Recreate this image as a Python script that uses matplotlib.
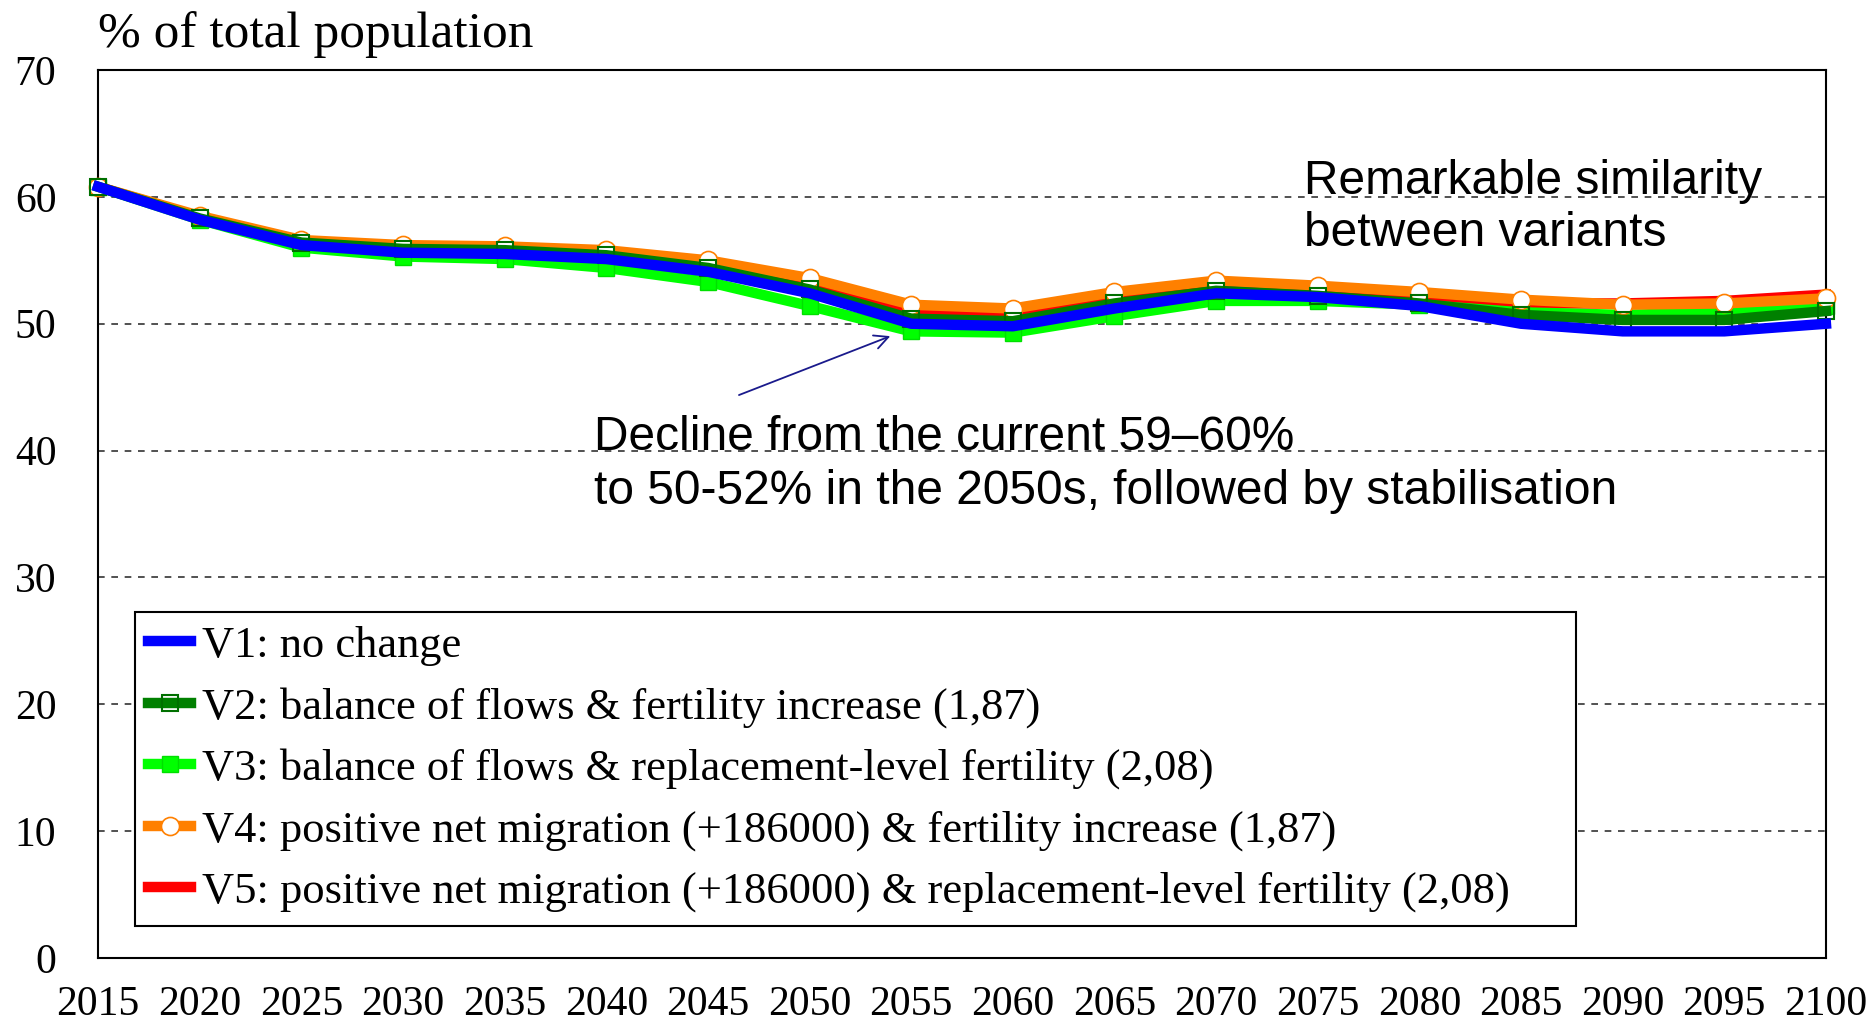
import numpy as np
import matplotlib
matplotlib.use('Agg')
import matplotlib.pyplot as plt

# data (share of population, %)
years = [2015, 2020, 2025, 2030, 2035, 2040, 2045, 2050, 2055,
         2060, 2065, 2070, 2075, 2080, 2085, 2090, 2095, 2100]
v1 = [60.8, 58.2, 56.2, 55.6, 55.5, 55.1, 54.1, 52.4, 50.0,
      49.8, 51.2, 52.4, 52.1, 51.4, 50.0, 49.4, 49.4, 50.0]
v2 = [60.8, 58.3, 56.4, 55.9, 55.8, 55.4, 54.4, 52.7, 50.4,
      50.2, 51.6, 52.6, 52.2, 51.6, 50.7, 50.3, 50.3, 51.0]
v3 = [60.8, 58.2, 56.0, 55.3, 55.1, 54.4, 53.3, 51.4, 49.4,
      49.3, 50.6, 51.8, 51.8, 51.5, 50.9, 50.7, 50.9, 51.4]
v4 = [60.8, 58.5, 56.6, 56.2, 56.1, 55.8, 55.0, 53.6, 51.5,
      51.2, 52.5, 53.4, 53.0, 52.5, 51.9, 51.5, 51.6, 52.0]
v5 = [60.8, 58.4, 56.4, 56.0, 55.9, 55.6, 54.7, 53.2, 51.0,
      50.8, 52.1, 53.1, 52.8, 52.3, 51.6, 51.6, 51.8, 52.3]

labels = ['V1: no change',
          'V2: balance of flows & fertility increase (1,87)',
          'V3: balance of flows & replacement-level fertility (2,08)',
          'V4: positive net migration (+186000) & fertility increase (1,87)',
          'V5: positive net migration (+186000) & replacement-level fertility (2,08)']
yticks = [0, 10, 20, 30, 40, 50, 60, 70]

serif = 'Liberation Serif'
sans = 'Liberation Sans'

fig = plt.figure(figsize=(18.72, 10.21), dpi=100)
ax = fig.add_axes([0.0524, 0.0617, 0.923, 0.8697])

lw = 7.5
h1, = ax.plot(years, v1, color='#0000ff', lw=lw, zorder=7, label=labels[0])
h2, = ax.plot(years, v2, color='#008000', lw=lw, marker='s', ms=12, mfc='none',
              mec='#007000', mew=1.5, zorder=6, label=labels[1])
h3, = ax.plot(years, v3, color='#00ff00', lw=lw, marker='s', ms=12, mfc='#00ff00',
              mec='#00e000', zorder=4, label=labels[2])
h4, = ax.plot(years, v4, color='#ff8000', lw=lw, marker='o', ms=13, mfc='white',
              mec='#ff8000', mew=1.2, zorder=5, label=labels[3])
h5, = ax.plot(years, v5, color='#ff0000', lw=lw, zorder=3, label=labels[4])
for h in (h1, h2, h3, h4, h5):
    h.set_clip_on(False)

ax.set_xlim(2015, 2100)
ax.set_ylim(0, 70)
ax.set_xticks(years)
ax.set_yticks(yticks)
ax.tick_params(length=0)
ax.tick_params(axis='x', pad=20)
ax.tick_params(axis='y', pad=30)
for t in ax.get_xticklabels():
    t.set_fontfamily(serif)
    t.set_fontsize(30)
for t in ax.get_yticklabels():
    t.set_fontfamily(serif)
    t.set_fontsize(30)
for s in ax.spines.values():
    s.set_linewidth(1.5)
for y in [10, 20, 30, 40, 50, 60]:
    ax.axhline(y, color='#333333', lw=1.2, ls=(0, (4, 4)), zorder=1)

fig.text(0.0524, 0.966, '% of total population', fontfamily=serif, fontsize=37,
         ha='left', va='center')

leg = ax.legend(loc='lower left', bbox_to_anchor=(0.0214, 0.0363, 0.834, 0.3), mode='expand',
                prop={'family': serif, 'size': 32},
                frameon=True, fancybox=False, edgecolor='black', framealpha=1,
                handlelength=0.95, numpoints=1, labelspacing=0.47, borderpad=0.3,
                handletextpad=0.25, borderaxespad=0)
leg.get_frame().set_linewidth(1.5)
leg.set_zorder(10)

ax.text(2074.3, 59.2, 'Remarkable similarity\nbetween variants', fontfamily=sans,
        fontsize=34.5, ha='left', va='center', linespacing=1.2, zorder=11)
ax.text(2039.4, 38.9, 'Decline from the current 59\u201360%\nto 50-52% in the 2050s, followed by stabilisation',
        fontfamily=sans, fontsize=34.5, ha='left', va='center', linespacing=1.28, zorder=11)
ax.annotate('', xy=(2054.1, 49.1), xytext=(2046.4, 44.3),
            arrowprops=dict(arrowstyle='->', color='#1a1a8c', lw=1.3, mutation_scale=25), zorder=11)

fig.savefig('out.png', dpi=100)
